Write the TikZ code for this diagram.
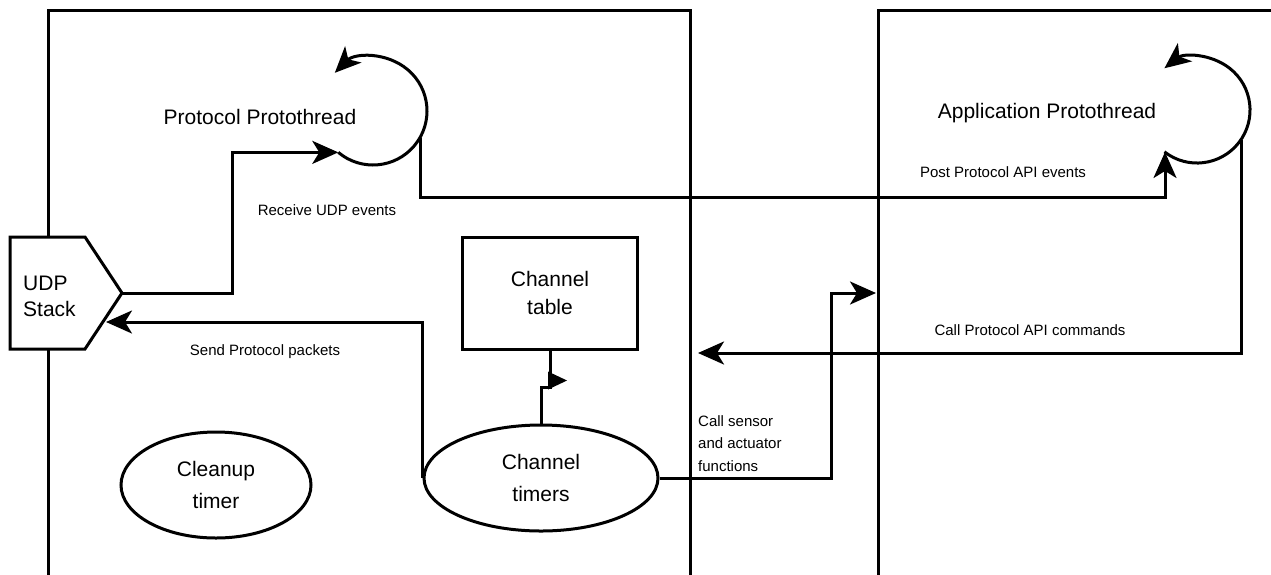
\documentclass[tikz,border=0pt]{standalone}
\usepackage{fontspec}
\setmainfont{Liberation Sans}
\usetikzlibrary{arrows.meta,shapes.geometric,calc}

\begin{document}
\begin{tikzpicture}[x=1pt,y=-1pt,
  line join=miter,
  plain/.style={line width=3pt},
  wire/.style={line width=3pt,-{Stealth[length=26pt 0,width=23pt 0,inset=7pt 0]}},
  bigtext/.style={font=\fontsize{21}{26}\selectfont,align=center,inner sep=0pt},
  smalltext/.style={font=\fontsize{15}{22.5}\selectfont,inner sep=0pt},
  oval/.style={ellipse,draw,line width=3pt,fill=white,inner sep=0pt,
               font=\fontsize{21}{32}\selectfont,align=center},
  tablebox/.style={rectangle,draw,line width=3pt,fill=white,inner sep=0pt,
               font=\fontsize{21}{28}\selectfont,align=center},
]
\useasboundingbox (0,0) rectangle (1271,574);

% two open-bottom frames
\draw[plain] (48,580) -- (48,10) -- (690,10) -- (690,580);
\draw[plain] (878,580) -- (878,10) -- (1280,10);

% UDP stack pentagon
\coordinate (udpTL) at (10,237);
\coordinate (udpTR) at (85,237);
\coordinate (udpTip) at (122,293);
\coordinate (udpBR) at (85,349);
\coordinate (udpBL) at (10,349);
\draw[plain,fill=white] (udpTL) -- (udpTR) -- (udpTip) -- (udpBR) -- (udpBL) -- cycle;
\node[bigtext,align=left,anchor=west] (udp) at (23,296) {UDP\\Stack};
\coordinate (udpBack) at (106,322);

% protothread loops
\coordinate (plC) at (373,111);
\coordinate (plIn) at ($(plC)+(130:54)$);
\coordinate (plOut) at (420,138);
\draw[wire] (plIn) arc[start angle=130,end angle=-135,radius=54];
\node[bigtext] (pptext) at (260,117) {Protocol Protothread};

\coordinate (alC) at (1197,110);
\coordinate (alIn) at (1165,152);
\coordinate (alOut) at (1241,140);
\draw[wire] (1164.4,151.8) arc[start angle=128,end angle=-128,radius=53];
\node[bigtext] (aptext) at (1047,113) {Application Protothread};

% nodes
\node[tablebox,minimum width=175pt,minimum height=112pt] (table) at (550,293) {Channel\\table};
\node[oval,minimum width=234pt,minimum height=106pt] (timers) at (541,478) {Channel\\timers};
\node[oval,minimum width=190pt,minimum height=106pt] (cleanup) at (216,485) {Cleanup\\timer};

% connectors
\draw[wire] (udpTip) -- (232,293) |- (plIn);
\draw[wire] (plOut) -- (420,197) -| (alIn);
\coordinate (apiEnd) at (698,353);
\draw[wire] (alOut) |- (apiEnd);
\draw[wire] (timers.west) |- (udpBack);
\coordinate (sensKnee) at (831,293);
\coordinate (sensEnd) at (876,293);
\draw[wire] (timers.east) -| (sensKnee) -- (sensEnd);
\coordinate (tblKnee) at (541,387);
\draw[plain] (timers.north) -- (tblKnee) -| (table.south);
\fill ($(table.south)+(-2,21)$) -- ($(table.south)+(17,30)$) -- ($(table.south)+(-2,39)$) -- cycle;

% labels
\node[smalltext] (lrecv) at (327,210) {Receive UDP events};
\node[smalltext] (lsend) at (265,352) {Send Protocol packets};
\node[smalltext] (lpost) at (1003,172) {Post Protocol API events};
\node[smalltext] (lcall) at (1030,330) {Call Protocol API commands};
\node[smalltext,align=left,anchor=north west] (lsens) at (698,415) {Call sensor\\and actuator\\functions};
\end{tikzpicture}
\end{document}
